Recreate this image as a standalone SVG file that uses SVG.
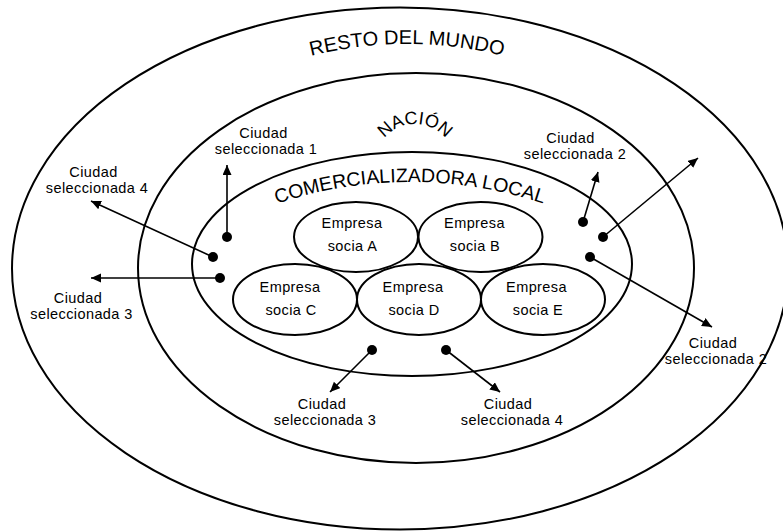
<svg xmlns="http://www.w3.org/2000/svg" width="783" height="531" viewBox="0 0 783 531">
<style>
.ring{fill:none;stroke:#000;stroke-width:2}
.emp{fill:#fff;stroke:#000;stroke-width:2}
.t{font-family:"Liberation Sans",Arial,sans-serif;font-size:14.5px;letter-spacing:0.4px;fill:#000;text-anchor:middle}
.big{font-family:"Liberation Sans",Arial,sans-serif;fill:#000;text-anchor:middle}
.arr{fill:none;stroke:#000;stroke-width:1.6;marker-end:url(#ah)}
.dot{fill:#000}
</style>
<defs>
<marker id="ah" markerUnits="userSpaceOnUse" markerWidth="11" markerHeight="10" refX="10" refY="4.5" orient="auto">
<path d="M0,0 L10,4.5 L0,9 Z" fill="#000"/>
</marker>
<path id="pMundo" d="M157 131.8 A400 400 0 0 1 657 131.8"/>
<path id="pNacion" d="M375 164 A40 40 0 0 1 455 164"/>
<path id="pCom" d="M160 264.5 A420 420 0 0 1 660 264.5"/>
</defs>
<rect width="783" height="531" fill="#fff"/>

<g id="resto-del-mundo">
<ellipse class="ring" cx="400" cy="268.5" rx="388" ry="261"/>
<text class="big" font-size="20"><textPath href="#pMundo" startOffset="50%">RESTO DEL MUNDO</textPath></text>
</g>

<g id="nacion">
<ellipse class="ring" cx="416" cy="268" rx="278" ry="195"/>
<text class="big" font-size="18"><textPath href="#pNacion" startOffset="50%">NACIÓN</textPath></text>
</g>

<g id="comercializadora-local">
<ellipse class="ring" cx="412" cy="264" rx="220" ry="112"/>
<text class="big" font-size="19.5"><textPath href="#pCom" startOffset="50%">COMERCIALIZADORA LOCAL</textPath></text>
</g>

<g id="empresa-a">
<ellipse class="emp" cx="356" cy="237" rx="62" ry="35"/>
<text class="t" x="352" y="228">Empresa</text>
<text class="t" x="352.5" y="251">socia A</text>
</g>
<g id="empresa-b">
<ellipse class="emp" cx="480.5" cy="237" rx="62" ry="35"/>
<text class="t" x="474.5" y="228">Empresa</text>
<text class="t" x="475" y="251">socia B</text>
</g>
<g id="empresa-c">
<ellipse class="emp" cx="295" cy="299.5" rx="62" ry="35.5"/>
<text class="t" x="290" y="292">Empresa</text>
<text class="t" x="291" y="315">socia C</text>
</g>
<g id="empresa-d">
<ellipse class="emp" cx="419" cy="299.5" rx="62" ry="35.5"/>
<text class="t" x="413" y="292">Empresa</text>
<text class="t" x="414" y="315">socia D</text>
</g>
<g id="empresa-e">
<ellipse class="emp" cx="543" cy="299.5" rx="62" ry="35.5"/>
<text class="t" x="536.5" y="292">Empresa</text>
<text class="t" x="538" y="315">socia E</text>
</g>

<g id="connectors">
<line class="arr" x1="227" y1="237" x2="227" y2="165"/>
<line class="arr" x1="213" y1="257" x2="91" y2="201"/>
<line class="arr" x1="220" y1="278" x2="91" y2="278"/>
<line class="arr" x1="583" y1="222" x2="598" y2="172"/>
<line class="arr" x1="603" y1="237" x2="698" y2="158"/>
<line class="arr" x1="590" y1="257" x2="712" y2="327"/>
<line class="arr" x1="372" y1="350" x2="330" y2="392"/>
<line class="arr" x1="446" y1="350" x2="500" y2="392"/>
<circle class="dot" cx="227" cy="237" r="5"/>
<circle class="dot" cx="213" cy="257" r="5"/>
<circle class="dot" cx="220" cy="278" r="5"/>
<circle class="dot" cx="583" cy="222" r="5"/>
<circle class="dot" cx="603" cy="237" r="5"/>
<circle class="dot" cx="590" cy="257" r="5"/>
<circle class="dot" cx="372" cy="350" r="5"/>
<circle class="dot" cx="446" cy="350" r="5"/>
</g>

<g id="ciudad-1-top">
<text class="t" x="263.5" y="137.5">Ciudad</text>
<text class="t" x="266" y="154">seleccionada 1</text>
</g>
<g id="ciudad-4-left">
<text class="t" x="93.5" y="176.5">Ciudad</text>
<text class="t" x="97" y="193">seleccionada 4</text>
</g>
<g id="ciudad-3-left">
<text class="t" x="78" y="302.5">Ciudad</text>
<text class="t" x="81.5" y="319">seleccionada 3</text>
</g>
<g id="ciudad-2-top">
<text class="t" x="570.5" y="142.5">Ciudad</text>
<text class="t" x="575" y="159">seleccionada 2</text>
</g>
<g id="ciudad-2-right">
<text class="t" x="713" y="347.5">Ciudad</text>
<text class="t" x="716" y="364">seleccionada 2</text>
</g>
<g id="ciudad-3-bottom">
<text class="t" x="322" y="408.5">Ciudad</text>
<text class="t" x="325" y="425">seleccionada 3</text>
</g>
<g id="ciudad-4-bottom">
<text class="t" x="508" y="408.5">Ciudad</text>
<text class="t" x="512" y="425">seleccionada 4</text>
</g>
</svg>
